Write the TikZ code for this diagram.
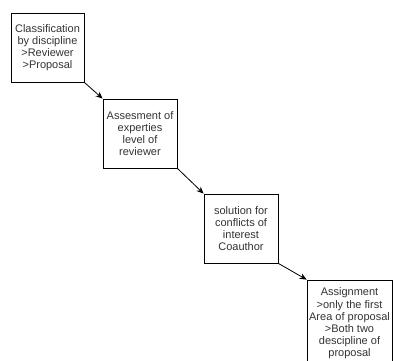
\documentclass[tikz,border=0pt]{standalone}
\usepackage{fontspec}
\setmainfont{Liberation Sans}
\usetikzlibrary{arrows.meta}
\begin{document}
\begin{tikzpicture}[x=1pt,y=-1pt,
  stepbox/.style={draw=black,line width=0.8pt,align=center,inner sep=1pt,
    font=\fontsize{11pt}{12.2pt}\selectfont,text=black!80},
  conn/.style={draw=black,line width=0.8pt,-{Stealth[length=7pt,width=6pt]}}]
\useasboundingbox (0,0) rectangle (393,360);
\clip (0,0) rectangle (393,360);
\fill[white] (0,0) rectangle (393,360);
\node[stepbox,minimum width=73pt,minimum height=69pt] (b1) at (47.5,47.5)
  {Classification\\by discipline\\>Reviewer\\>Proposal};
\node[stepbox,minimum width=74pt,minimum height=69pt] (b2) at (140,133.5)
  {Assesment of\\experties\\level of\\reviewer};
\node[stepbox,minimum width=74pt,minimum height=69pt] (b3) at (241,228.5)
  {solution for\\conflicts of\\interest\\Coauthor};
\node[stepbox,minimum width=85pt,minimum height=87pt] (b4) at (349.5,323.5)
  {Assignment\\>only the first\\Area of proposal\\>Both two\\descipline of\\proposal};
\draw[conn] (b1.south east) -- (b2.north west);
\draw[conn] (b2.south east) -- (b3.north west);
\draw[conn] (b3.south east) -- (b4.north west);
\end{tikzpicture}
\end{document}
